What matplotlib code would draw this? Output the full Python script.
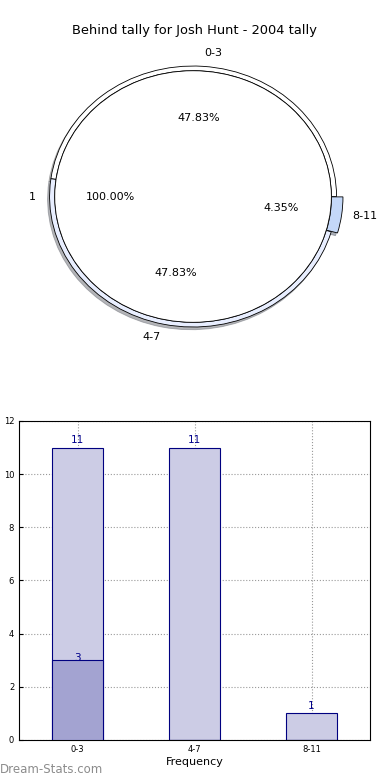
import matplotlib
matplotlib.use("Agg")
import matplotlib.pyplot as plt

title = "Behind tally for Josh Hunt - 2004 tally"
inner_labels = ["1"]
inner_values = [23]
bins = ["0-3", "4-7", "8-11"]
bin_counts = [11, 11, 1]
highlight_counts = [3, 0, 0]

fig = plt.figure(figsize=(3.9, 7.8), dpi=100)

# ---- pie (sunburst-like) ----
axp = fig.add_axes([0.0535, 0.5473, 0.883, 0.4015])
outer_colors = ["#ffffff", "#e8eeff", "#c4d8f8"]
shadow_kw = dict(ox=-0.01, oy=-0.015, shade=0.55)
w_out, t_out, a_out = axp.pie(
    bin_counts, labels=bins, colors=outer_colors, startangle=0,
    radius=1.0, explode=[0, 0, 0.02], shadow=shadow_kw,
    autopct="%.2f%%", pctdistance=0.6, labeldistance=1.1,
    wedgeprops=dict(width=0.036, edgecolor="black", linewidth=0.6),
    textprops=dict(fontsize=8))
w_out[2].set_radius(1.025)
w_out[2].set_width(0.08)
w_in, t_in, a_in = axp.pie(
    inner_values, labels=inner_labels, colors=["white"], startangle=0,
    radius=0.964, shadow=shadow_kw,
    autopct="%.2f%%", pctdistance=0.6, labeldistance=1.14,
    wedgeprops=dict(edgecolor="black", linewidth=0.6),
    textprops=dict(fontsize=8))
axp.set_aspect("auto")
axp.set_xlim(-1.2, 1.2)
axp.set_ylim(-1.2, 1.2)
axp.axis("off")

fig.text(0.5, 0.9615, title, ha="center", va="center", fontsize=9.4)

# ---- bar chart ----
axb = fig.add_axes([0.049, 0.0513, 0.9, 0.409])
x = list(range(len(bins)))
axb.bar(x, bin_counts, width=0.44, color="#ccccE5", edgecolor="#000080",
        linewidth=0.8, zorder=2)
axb.bar(x, highlight_counts, width=0.44, color="#a3a3d1", edgecolor="#000080",
        linewidth=0.8, zorder=3)
for xi, v in zip(x, bin_counts):
    axb.text(xi, v + 0.1, str(v), ha="center", va="bottom", fontsize=7.5,
             color="#00008b", zorder=5)
for xi, v in zip(x, highlight_counts):
    if v:
        axb.text(xi, v - 0.1, str(v), ha="center", va="bottom", fontsize=7.5,
                 color="#00008b", zorder=5)
axb.set_xlim(-0.5, 2.5)
axb.set_ylim(0, 12)
axb.set_yticks(range(0, 13, 2))
axb.set_xticks(x)
axb.set_xticklabels(bins)
axb.tick_params(labelsize=6, direction="in", length=3)
axb.grid(True, linestyle=":", color="#999999", linewidth=0.8, zorder=0)
axb.set_axisbelow(True)
axb.set_xlabel("Frequency", fontsize=8, labelpad=2)
fig.text(-0.004, 0.256, "Scores Per Bin", rotation=90, ha="center",
         va="center", fontsize=7)

fig.text(0.0, 0.013, "Dream-Stats.com", ha="left", va="center", fontsize=8.5,
         color="#8c8c8c")

fig.savefig("out.png", dpi=100)
